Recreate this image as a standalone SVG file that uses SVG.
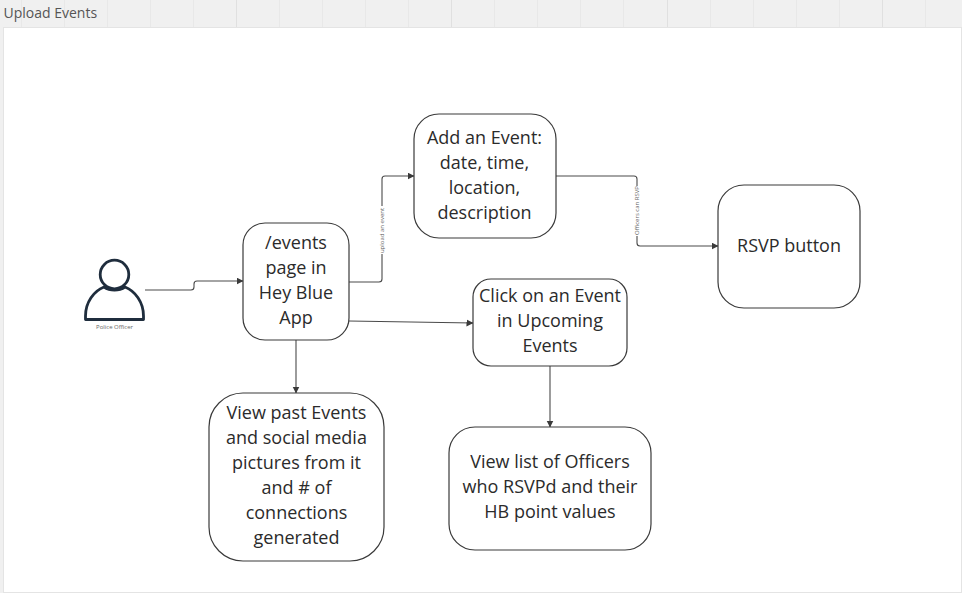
<svg xmlns="http://www.w3.org/2000/svg" width="962" height="593" viewBox="0 0 962 593">
<style>
.n{fill:#fff;stroke:#3a3a3a;stroke-width:1.2}
.t{font-family:"Open Sans","Noto Sans",sans-serif;font-size:18px;fill:#2b2b2b;text-anchor:middle}
.c{fill:none;stroke:#4a4a4a;stroke-width:1.1}
.l{font-family:"Open Sans","Noto Sans",sans-serif;font-size:6px;fill:#666;text-anchor:middle}
.g{stroke:#e8e8e8;stroke-width:1;fill:none}
.g2{stroke:#e0e0e0;stroke-width:1;fill:none}
</style>
<defs><marker id="a" markerUnits="userSpaceOnUse" markerWidth="8" markerHeight="8" refX="6.500" refY="3.500" orient="auto"><path d="M0 0L7 3.500L0 7z" fill="#3a3a3a"/></marker></defs>
<rect width="962" height="593" fill="#f0f0f0"/>
<path class="g" d="M21.500 0V27M64.500 0V27M107.500 0V27M150.500 0V27M193.500 0V27M279.500 0V27M322.500 0V27M365.500 0V27M408.500 0V27M494.500 0V27M537.500 0V27M580.500 0V27M623.500 0V27M710.500 0V27M753.500 0V27M796.500 0V27M839.500 0V27M925.500 0V27"/>
<path class="g2" d="M236.500 0V27M451.500 0V27M667.500 0V27M882.500 0V27"/>
<rect x="3.500" y="27.500" width="958" height="565" fill="#fff" stroke="#e4e4e4"/>
<text x="3.500" y="18" font-family="'Open Sans','Noto Sans',sans-serif" font-size="14" fill="#555">Upload Events</text>
<g id="connectors">
<path class="c" d="M145 290H191Q194 290 194 287V284Q194 281 197 281H243" marker-end="url(#a)"/>
<path class="c" d="M349 282H379Q382 282 382 279V179Q382 176 385 176H414" marker-end="url(#a)"/>
<path class="c" d="M556 176H634Q637 176 637 179V243Q637 246 640 246H718" marker-end="url(#a)"/>
<path class="c" d="M349 321L473 323" marker-end="url(#a)"/>
<path class="c" d="M296 340V393" marker-end="url(#a)"/>
<path class="c" d="M550 366V427" marker-end="url(#a)"/>
<rect x="378" y="206" width="8" height="48" fill="#fff"/>
<text class="l" transform="translate(384 230.500) rotate(-90)">upload an event</text>
<rect x="633" y="186" width="8" height="50" fill="#fff"/>
<text class="l" transform="translate(639 210.500) rotate(-90)">Officers can RSVP</text>
</g>
<g id="officer">
<circle cx="114.500" cy="274.500" r="14.300" fill="#fff" stroke="#1f2d3d" stroke-width="2.800"/>
<path d="M85.500 319.500V316C85.500 302 94 291 104 287C110 291 119 291 125 287C135 291 143.500 302 143.500 316V319.500Z" fill="#fff" stroke="#1f2d3d" stroke-width="2.800" stroke-linejoin="round"/>
<text x="114.500" y="329" font-family="'Open Sans','Noto Sans',sans-serif" font-size="6" fill="#666" text-anchor="middle">Police Officer</text>
</g>
<g id="events-page"><rect class="n" x="243" y="223" width="106" height="117" rx="22"/>
<text class="t"><tspan x="296" y="249">/events</tspan><tspan x="296" y="274">page in</tspan><tspan x="296" y="299">Hey Blue</tspan><tspan x="296" y="324">App</tspan></text></g>
<g id="add-event"><rect class="n" x="414" y="114" width="142" height="124" rx="25"/>
<text class="t"><tspan x="484.500" y="144">Add an Event:</tspan><tspan x="484.500" y="169">date, time,</tspan><tspan x="484.500" y="194">location,</tspan><tspan x="484.500" y="219">description</tspan></text></g>
<g id="rsvp"><rect class="n" x="718" y="185" width="142" height="123" rx="26"/>
<text class="t" x="789" y="252">RSVP button</text></g>
<g id="click-event"><rect class="n" x="473" y="279" width="154" height="87" rx="18"/>
<text class="t"><tspan x="550" y="302">Click on an Event</tspan><tspan x="550" y="327">in Upcoming</tspan><tspan x="550" y="352">Events</tspan></text></g>
<g id="past-events"><rect class="n" x="209" y="393" width="175" height="168" rx="34"/>
<text class="t"><tspan x="296.500" y="419">View past Events</tspan><tspan x="296.500" y="444">and social media</tspan><tspan x="296.500" y="469">pictures from it</tspan><tspan x="296.500" y="494">and # of</tspan><tspan x="296.500" y="519">connections</tspan><tspan x="296.500" y="544">generated</tspan></text></g>
<g id="officers-list"><rect class="n" x="449" y="427" width="202" height="123" rx="26"/>
<text class="t"><tspan x="550" y="468">View list of Officers</tspan><tspan x="550" y="493">who RSVPd and their</tspan><tspan x="550" y="518">HB point values</tspan></text></g>
</svg>
